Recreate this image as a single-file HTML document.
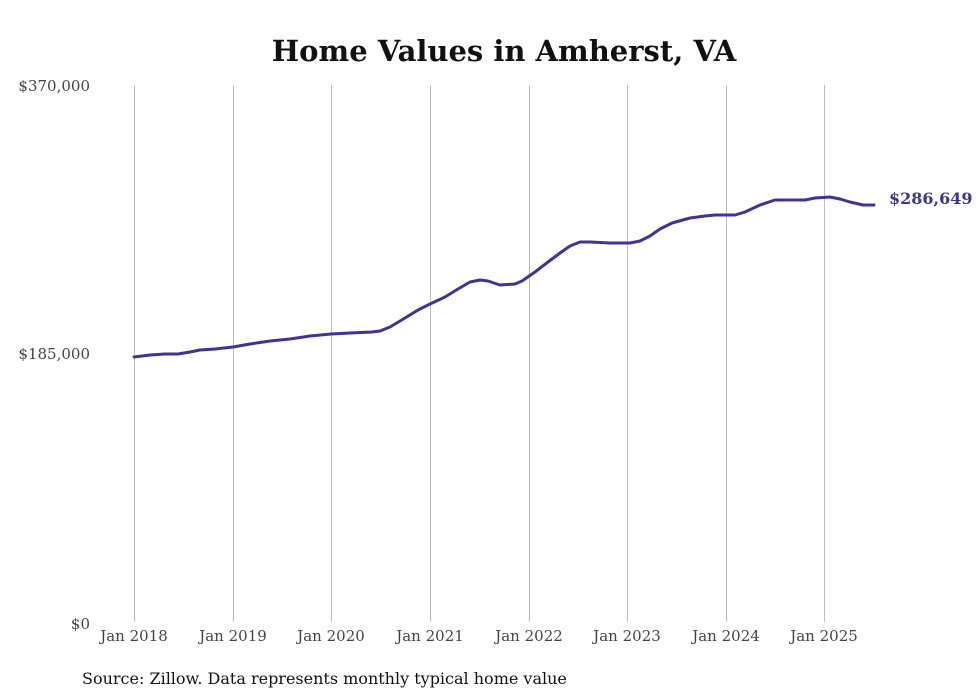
<!DOCTYPE html>
<html><head><style>body{margin:0;background:#fff;}svg{display:block}</style></head><body>
<svg width="980" height="699" xmlns="http://www.w3.org/2000/svg" font-family="'DejaVu Serif','Liberation Serif',serif">
<rect width="980" height="699" fill="#fff"/>
<text x="504" y="61" text-anchor="middle" font-size="29" font-weight="bold" fill="#111">Home Values in Amherst, VA</text>
<g stroke="#bdbdbd" stroke-width="1">
<line x1="134.5" y1="85" x2="134.5" y2="622"/><line x1="233.5" y1="85" x2="233.5" y2="622"/><line x1="331.5" y1="85" x2="331.5" y2="622"/><line x1="430.5" y1="85" x2="430.5" y2="622"/><line x1="529.5" y1="85" x2="529.5" y2="622"/><line x1="627.5" y1="85" x2="627.5" y2="622"/><line x1="726.5" y1="85" x2="726.5" y2="622"/><line x1="824.5" y1="85" x2="824.5" y2="622"/>
</g>
<g font-size="15" fill="#444" text-anchor="end">
<text x="90" y="91">$370,000</text><text x="90" y="359">$185,000</text><text x="90" y="629">$0</text>
</g>
<g font-size="15" fill="#444" text-anchor="middle">
<text x="134" y="641">Jan 2018</text><text x="233" y="641">Jan 2019</text><text x="331" y="641">Jan 2020</text><text x="430" y="641">Jan 2021</text><text x="529" y="641">Jan 2022</text><text x="627" y="641">Jan 2023</text><text x="726" y="641">Jan 2024</text><text x="824" y="641">Jan 2025</text>
</g>
<polyline fill="none" stroke="#3d3593" stroke-width="3" stroke-linejoin="round" stroke-linecap="round" points="134,357 150,355 165,354 178,354 190,352 200,350 215,349 233,347 250,344 270,341 290,339 310,336 331,334 350,333 372,332 380,331 390,327 405,318 418,310 430,304 445,297 458,289 470,282 480,280 488,281 500,285 515,284 522,281 535,272 548,262 560,253 570,246 580,242 590,242 610,243 630,243 640,241 650,236 660,229 672,223 690,218 705,216 715,215 735,215 745,212 760,205 775,200 790,200 805,200 815,198 830,197 840,199 850,202 863,205 874,205"/>
<text x="889" y="204" font-size="16" font-weight="bold" fill="#3d3593">$286,649</text>
<text x="82" y="684" font-size="16" fill="#111">Source: Zillow. Data represents monthly typical home value</text>
</svg>
</body></html>
